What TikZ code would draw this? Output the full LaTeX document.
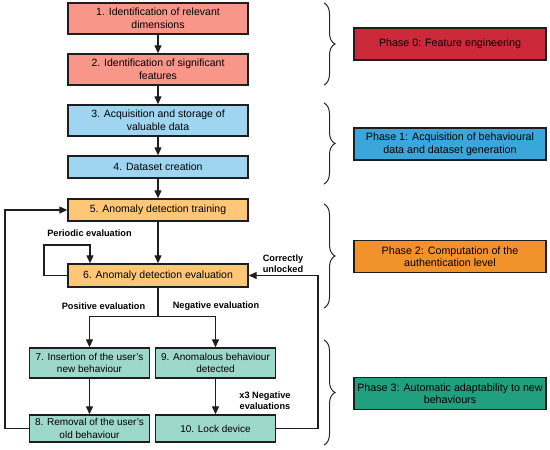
\documentclass[tikz,border=0pt]{standalone}
\usepackage{fontspec}
\setmainfont{Liberation Sans}
\usetikzlibrary{arrows.meta,decorations.pathreplacing}
\definecolor{salmon}{HTML}{F8968A}
\definecolor{lblue}{HTML}{9FD5F0}
\definecolor{lorange}{HTML}{FDC777}
\definecolor{mint}{HTML}{9ED8CA}
\definecolor{pred}{HTML}{CC2A3A}
\definecolor{pblue}{HTML}{3AA7DC}
\definecolor{porange}{HTML}{F2922A}
\definecolor{pteal}{HTML}{20A07F}
\definecolor{edge}{HTML}{1E1E1E}
\begin{document}
\begin{tikzpicture}[x=1pt,y=-1pt,
  box/.style={draw=edge,line width=1.4pt,align=center,inner sep=0pt,font=\fontsize{10.5}{12.6}\selectfont},
  mainbox/.style={box,minimum width=180pt},
  smallbox/.style={box,minimum width=119.5pt,font=\fontsize{10}{12.4}\selectfont},
  phasebox/.style={box,minimum width=192pt,minimum height=32pt,font=\fontsize{10.7}{12.6}\selectfont},
  arr/.style={draw=edge,line width=1.3pt,-{Triangle[length=8pt,width=7pt]}},
  plain/.style={draw=edge,line width=1.3pt},
  lbl/.style={font=\fontsize{9.2}{11}\selectfont\bfseries,align=center,inner sep=0pt},
  brc/.style={decorate,decoration={brace,amplitude=11pt},line width=1pt,draw=black!85}]
\useasboundingbox (0,0) rectangle (550,450);

% main column
\node[mainbox,fill=salmon,minimum height=31pt] (n1) at (158,18.5) {1. Identification of relevant\\dimensions};
\node[mainbox,fill=salmon,minimum height=31pt] (n2) at (158,69.5) {2. Identification of significant\\features};
\node[mainbox,fill=lblue,minimum height=31pt] (n3) at (158,120.5) {3. Acquisition and storage of\\valuable data};
\node[mainbox,fill=lblue,minimum height=22pt] (n4) at (158,167) {4. Dataset creation};
\node[mainbox,fill=lorange,minimum height=22pt] (n5) at (158,210) {5. Anomaly detection training};
\node[mainbox,fill=lorange,minimum height=23pt] (n6) at (158,275.5) {6. Anomaly detection evaluation};
\node[smallbox,fill=mint,minimum height=30pt] (n7) at (89.5,363) {7. Insertion of the user's\\new behaviour};
\node[smallbox,fill=mint,minimum height=30pt] (n9) at (215.5,363) {9. Anomalous behaviour\\detected};
\node[smallbox,fill=mint,minimum height=27pt] (n8) at (89.5,428.5) {8. Removal of the user's\\old behaviour};
\node[smallbox,fill=mint,minimum height=27pt] (n10) at (215.5,428.5) {10. Lock device};

% phases
\node[phasebox,fill=pred] (p0) at (450,44) {Phase 0: Feature engineering};
\node[phasebox,fill=pblue] (p1) at (450,144) {Phase 1: Acquisition of behavioural\\data and dataset generation};
\node[phasebox,fill=porange] (p2) at (450,256.5) {Phase 2: Computation of the\\authentication level};
\node[phasebox,fill=pteal] (p3) at (450,393.5) {Phase 3: Automatic adaptability to new\\behaviours};

% braces
\draw[brc] (324,3) -- (324,85);
\draw[brc] (324,103) -- (324,184);
\draw[brc] (324,204) -- (324,308);
\draw[brc] (324,340) -- (324,445);

% arrows
\draw[arr] (n1.south) -- (n2.north);
\draw[arr] (n2.south) -- (n3.north);
\draw[arr] (n3.south) -- (n4.north);
\draw[arr] (n4.south) -- (n5.north);
\draw[arr] (n5.south) -- (n6.north);
\coordinate (split) at (158,316.5);
\draw[plain] (n6.south) -- (split);
\draw[arr] (split) -| (n7.north);
\draw[arr] (split) -| (n9.north);
\draw[arr] (n7.south) -- (n8.north);
\draw[arr] (n9.south) -- (n10.north);
\draw[arr] (n6.west) -| (44,245) -| (90,245 |- n6.north);
\draw[arr] (n8.west) -| (5,210) -- (n5.west);
\draw[arr] (n10.east) -| (318,275.5) -- (n6.east);

% labels
\node[lbl] (lper) at (89.5,233) {Periodic evaluation};
\node[lbl] (lpos) at (103.5,306) {Positive evaluation};
\node[lbl] (lneg) at (216,306) {Negative evaluation};
\node[lbl] (lcor) at (283,263.5) {Correctly\\unlocked};
\node[lbl] (lx3) at (265,400.5) {x3 Negative\\evaluations};
\end{tikzpicture}
\end{document}
